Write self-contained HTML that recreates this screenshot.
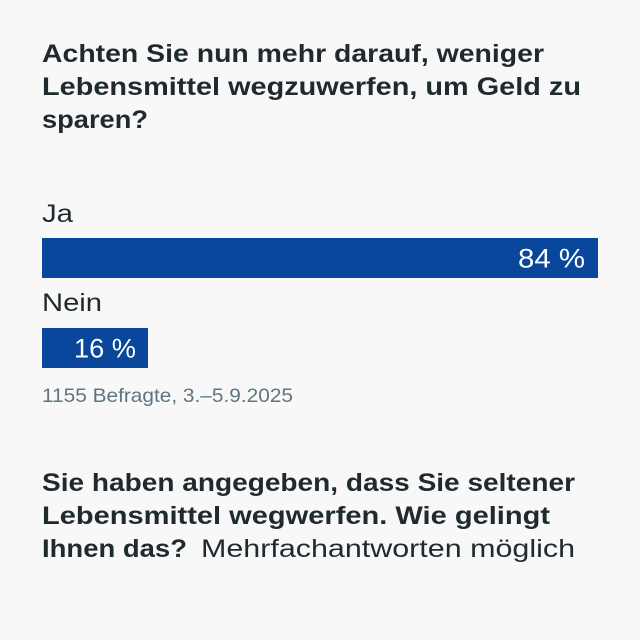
<!DOCTYPE html>
<html>
<head>
<meta charset="utf-8">
<style>
  html,body{margin:0;padding:0;background:#f8f8f8;}
  svg{display:block;}
  text{font-family:"Liberation Sans", Arial, sans-serif;}
</style>
</head>
<body>
<svg width="640" height="640" viewBox="0 0 640 640" xmlns="http://www.w3.org/2000/svg">
  <rect x="0" y="0" width="640" height="640" fill="#f8f8f8"/>

  <g fill="#1f2a2f" font-weight="bold" font-size="25">
    <text x="42" y="62" textLength="502" lengthAdjust="spacingAndGlyphs">Achten Sie nun mehr darauf, weniger</text>
    <text x="42" y="95" textLength="539" lengthAdjust="spacingAndGlyphs">Lebensmittel wegzuwerfen, um Geld zu</text>
    <text x="42" y="128" textLength="106" lengthAdjust="spacingAndGlyphs">sparen?</text>
  </g>

  <g fill="#1f2a2f" font-size="25">
    <text x="42" y="222" textLength="31" lengthAdjust="spacingAndGlyphs">Ja</text>
    <text x="42" y="311" textLength="60" lengthAdjust="spacingAndGlyphs">Nein</text>
  </g>

  <rect x="42" y="238" width="556" height="40" fill="#08479b"/>
  <rect x="42" y="328" width="106" height="40" fill="#08479b"/>

  <g fill="#ffffff" font-size="27">
    <text x="518" y="267.5" textLength="67" lengthAdjust="spacingAndGlyphs">84 %</text>
    <text x="74" y="357.5" textLength="62" lengthAdjust="spacingAndGlyphs">16 %</text>
  </g>

  <text x="42" y="402" fill="#5e7584" font-size="19.5" textLength="251" lengthAdjust="spacingAndGlyphs">1155 Befragte, 3.–5.9.2025</text>

  <g fill="#1f2a2f" font-size="25">
    <text x="42" y="491" font-weight="bold" textLength="533" lengthAdjust="spacingAndGlyphs">Sie haben angegeben, dass Sie seltener</text>
    <text x="42" y="524" font-weight="bold" textLength="508" lengthAdjust="spacingAndGlyphs">Lebensmittel wegwerfen. Wie gelingt</text>
    <text x="42" y="557" font-weight="bold" textLength="145" lengthAdjust="spacingAndGlyphs">Ihnen das?</text>
    <text x="201" y="557" textLength="374" lengthAdjust="spacingAndGlyphs">Mehrfachantworten möglich</text>
  </g>
</svg>
</body>
</html>
